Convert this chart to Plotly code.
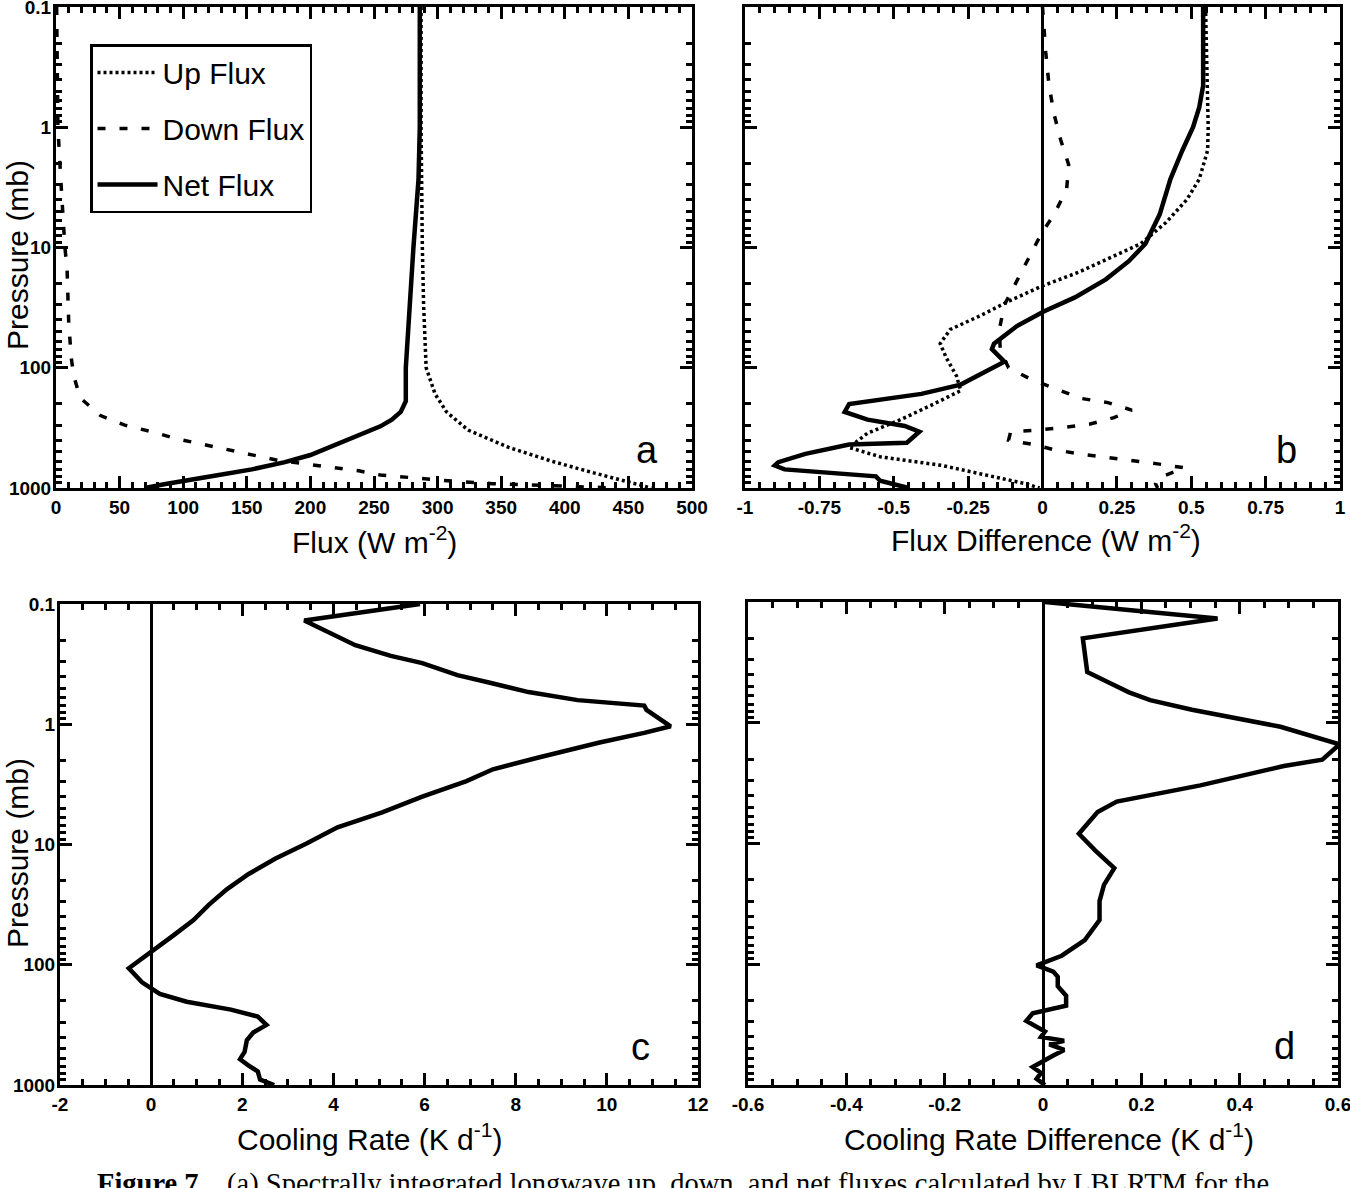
import plotly.graph_objects as go

# ---------------- Panel a : fluxes ----------------
p_up_a = [0.1, 1, 10, 30, 100, 165, 233, 330, 460, 600, 740, 880, 1000]
up_a = [287, 287, 288, 289, 291, 298, 307, 324, 356, 390, 421, 449, 468]

p_dn_a = [0.1, 0.3, 1, 3, 10, 15, 42, 83, 117, 178, 250, 300, 340, 390, 435,
          480, 530, 590, 630, 680, 720, 780, 820, 870, 920, 960, 1000]
dn_a = [0.5, 1, 1.5, 4, 7, 8.7, 10, 12, 14, 19, 35, 54, 75, 95, 115,
        134, 154, 175, 196, 217, 238, 255, 278, 308, 343, 385, 440]

p_net_a = [0.1, 1, 2.7, 10, 100, 190, 233, 270, 307, 350, 404, 460, 532, 610, 700, 780, 860, 930, 1000]
net_a = [286, 286, 285, 281, 275, 275, 271, 264, 255, 242, 227, 214, 200, 180, 154, 128, 102, 85, 70]

# ---------------- Panel b : flux differences ----------------
p_up_b = [0.1, 0.6, 1, 1.56, 2.7, 4, 6.2, 9.3, 12, 16, 21, 28, 37, 48, 63, 83,
          117, 155, 200, 270, 350, 460, 550, 650, 800, 920, 1000]
up_b = [0.548, 0.555, 0.557, 0.555, 0.527, 0.485, 0.415, 0.33, 0.234, 0.123, -0.003,
        -0.114, -0.21, -0.31, -0.344, -0.323, -0.289, -0.275, -0.365, -0.477, -0.588,
        -0.65, -0.546, -0.337, -0.17, -0.058, -0.01]

p_dn_b = [0.1, 0.24, 0.45, 0.78, 1.27, 2.05, 3.3, 5.3, 7.6, 12, 18.4, 30, 48, 72, 100,
          125, 150, 180, 195, 225, 260, 295, 315, 330, 340, 400, 435, 480, 520, 550,
          590, 630, 680, 750, 830, 920, 1000]
dn_b = [0.0, 0.011, 0.022, 0.039, 0.061, 0.088, 0.081, 0.039, -0.003, -0.045, -0.086,
        -0.128, -0.145, -0.142, -0.114, -0.038, 0.046, 0.13, 0.22, 0.30, 0.24, 0.157,
        0.067, -0.017, -0.107, -0.114, -0.031, 0.039, 0.123, 0.206, 0.304, 0.387, 0.478,
        0.436, 0.387, 0.38, 0.387]

p_net_b = [0.1, 0.3, 0.45, 0.68, 1, 1.56, 2.7, 5.3, 9.3, 13, 18.4, 26, 34, 45, 63, 70,
           89, 138, 165, 200, 233, 270, 305, 340, 420, 435, 520, 610, 650, 700, 800, 870, 1000]
net_b = [0.54, 0.54, 0.54, 0.527, 0.506, 0.47, 0.43, 0.394, 0.346, 0.29, 0.213, 0.109,
         0.004, -0.086, -0.163, -0.17, -0.128, -0.275, -0.407, -0.65, -0.665, -0.588,
         -0.463, -0.414, -0.456, -0.65, -0.797, -0.888, -0.9, -0.867, -0.56, -0.546, -0.45]

# ---------------- Panel c : cooling rate ----------------
p_c = [0.1, 0.137, 0.22, 0.27, 0.31, 0.39, 0.45, 0.54, 0.63, 0.70, 0.76, 1.04, 1.18,
       1.42, 1.9, 2.37, 2.97, 4.0, 5.4, 7.2, 9.8, 13.1, 17.6, 23.6, 31.6, 42.5, 57, 78,
       107, 140, 175, 203, 236, 270, 316, 366, 425, 530, 610, 690, 770, 900, 1000]
cr_c = [5.9, 3.36, 4.48, 5.26, 5.95, 6.72, 7.41, 8.28, 9.36, 10.82, 10.87, 11.4, 10.82,
        9.84, 8.48, 7.5, 6.92, 5.95, 5.07, 4.09, 3.41, 2.73, 2.14, 1.66, 1.27, 0.93, 0.49,
        0.0, -0.49, -0.2, 0.19, 0.78, 1.75, 2.34, 2.53, 2.24, 2.1, 2.05, 1.95, 2.14, 2.34,
        2.39, 2.7]

# ---------------- Panel d : cooling rate difference ----------------
p_d = [0.1, 0.137, 0.2, 0.38, 0.48, 0.56, 0.65, 0.78, 1.08, 1.51, 2.02, 2.28, 3.3,
       3.95, 4.5, 5.5, 6.4, 8.3, 11.5, 16, 22, 30, 43, 63, 85, 102, 115, 127, 152, 182,
       220, 255, 295, 360, 400, 430, 460, 512, 570, 635, 710, 795, 890, 1000]
crd_d = [0.004, 0.355, 0.081, 0.09, 0.141, 0.175, 0.218, 0.303, 0.483, 0.603, 0.568,
         0.49, 0.32, 0.218, 0.15, 0.111, 0.098, 0.073, 0.107, 0.145, 0.124, 0.115, 0.115,
         0.085, 0.038, -0.013, 0.021, 0.03, 0.03, 0.047, 0.047, -0.021, -0.034, 0.004,
         -0.004, 0.043, 0.013, 0.043, 0.021, 0.0, -0.021, -0.004, -0.013, 0.004]

# ---------------- Tick labels ----------------
p_tickvals = [0.1, 1, 10, 100, 1000]
p_ticktext = ["0.1", "1", "10", "100", "1000"]
xa_vals = [0, 50, 100, 150, 200, 250, 300, 350, 400, 450, 500]
xa_text = ["0", "50", "100", "150", "200", "250", "300", "350", "400", "450", "500"]
xb_vals = [-1, -0.75, -0.5, -0.25, 0, 0.25, 0.5, 0.75, 1]
xb_text = ["-1", "-0.75", "-0.5", "-0.25", "0", "0.25", "0.5", "0.75", "1"]
xc_vals = [-2, 0, 2, 4, 6, 8, 10, 12]
xc_text = ["-2", "0", "2", "4", "6", "8", "10", "12"]
xd_vals = [-0.6, -0.4, -0.2, 0, 0.2, 0.4, 0.6]
xd_text = ["-0.6", "-0.4", "-0.2", "0", "0.2", "0.4", "0.6"]

FONT = "Liberation Sans, Arial, Helvetica, sans-serif"
W, H = 1350, 1188

fig = go.Figure()

def add(x, y, name, dash, width, xa, ya, legend=False):
    fig.add_trace(go.Scatter(x=x, y=y, mode="lines", name=name,
                             line=dict(color="black", width=width, dash=dash),
                             xaxis=xa, yaxis=ya, showlegend=legend,
                             legendgroup=name if legend else None))

DOT = "3px,3px"
DASH = "8px,14px"
add(up_a, p_up_a, "Up Flux", DOT, 3.5, "x", "y", True)
add(dn_a, p_dn_a, "Down Flux", DASH, 3.5, "x", "y", True)
add(net_a, p_net_a, "Net Flux", "solid", 4.5, "x", "y", True)

add(up_b, p_up_b, "Up Flux b", DOT, 3.5, "x2", "y2")
add(dn_b, p_dn_b, "Down Flux b", DASH, 3.5, "x2", "y2")
add(net_b, p_net_b, "Net Flux b", "solid", 4.5, "x2", "y2")

add(cr_c, p_c, "Cooling Rate", "solid", 4.5, "x3", "y3")
add(crd_d, p_d, "Cooling Rate Difference", "solid", 4.5, "x4", "y4")

tickfont = dict(family=FONT, size=19, color="black", weight="bold")
minor_logs = [m * 10.0 ** e for e in range(-1, 3) for m in range(2, 10)]

def xaxis(domain, anchor, rng, vals, text, minor_dt, zeroline):
    return dict(domain=domain, anchor=anchor, range=rng, tickmode="array",
                tickvals=vals, ticktext=text, ticks="inside", ticklen=12, tickwidth=2.5,
                tickcolor="black", showline=True, linewidth=3, linecolor="black",
                mirror="allticks", showgrid=False, zeroline=zeroline, zerolinewidth=3,
                zerolinecolor="black", tickfont=tickfont, ticklabelstandoff=0,
                ticklabeloverflow="allow", automargin=False,
                minor=dict(tickmode="linear", tick0=0, dtick=minor_dt, ticks="inside",
                           ticklen=6, tickwidth=2.5, tickcolor="black", showgrid=False))

def yaxis(domain, anchor, labels):
    return dict(domain=domain, anchor=anchor, type="log", range=[3, -1],
                tickmode="array", tickvals=p_tickvals, ticktext=p_ticktext,
                showticklabels=labels, ticks="inside", ticklen=12, tickwidth=2.5,
                tickcolor="black", showline=True, linewidth=3, linecolor="black",
                mirror="allticks", showgrid=False, zeroline=False, tickfont=tickfont,
                ticklabelstandoff=-2, ticklabeloverflow="allow", automargin=False,
                minor=dict(tickmode="array", tickvals=minor_logs, ticks="inside",
                           ticklen=6, tickwidth=2.5, tickcolor="black", showgrid=False))

yd_top = [1 - 488 / H, 1 - 7 / H]
yd_bot = [1 - 1085 / H, 1 - 604 / H]

fig.update_layout(
    width=W, height=H, margin=dict(l=0, r=0, t=0, b=0),
    paper_bgcolor="white", plot_bgcolor="white",
    font=dict(family=FONT, color="black"),
    xaxis=xaxis([56 / W, 692 / W], "y", [0, 500], xa_vals, xa_text, 10, False),
    yaxis=yaxis(yd_top, "x", True),
    xaxis2=xaxis([745 / W, 1340 / W], "y2", [-1, 1], xb_vals, xb_text, 0.05, True),
    yaxis2=yaxis(yd_top, "x2", False),
    xaxis3=xaxis([60 / W, 698 / W], "y3", [-2, 12], xc_vals, xc_text, 0.5, True),
    yaxis3=yaxis(yd_bot, "x3", True),
    xaxis4=xaxis([748 / W, 1338 / W], "y4", [-0.6, 0.6], xd_vals, xd_text, 0.05, True),
    yaxis4=yaxis([1 - 1085 / H, 1 - 602 / H], "x4", False),
    legend=dict(x=90 / W, y=1 - 44 / H, xanchor="left", yanchor="top",
                bordercolor="black", borderwidth=2.5, bgcolor="white",
                font=dict(family=FONT, size=30, color="black"),
                tracegroupgap=14, itemwidth=60,
                entrywidth=250, entrywidthmode="pixels"),
)

ann = []
def text(s, x, y, size=30, angle=0):
    ann.append(dict(text=s, x=x / W, y=1 - y / H, xref="paper", yref="paper",
                    xanchor="center", yanchor="middle",
                    showarrow=False, textangle=angle,
                    font=dict(family=FONT, size=size, color="black")))

text("Flux (W m<sup>-2</sup>)", 374, 540)
text("Flux Difference (W m<sup>-2</sup>)", 1046, 538)
text("Cooling Rate (K d<sup>-1</sup>)", 369, 1137)
text("Cooling Rate Difference (K d<sup>-1</sup>)", 1049, 1137)
text("Pressure (mb)", 17, 255, angle=-90)
text("Pressure (mb)", 17, 853, angle=-90)

for s, xr, yr in [("a", "x", "y"), ("b", "x2", "y2"), ("c", "x3", "y3"), ("d", "x4", "y4")]:
    ann.append(dict(text=s, x=0.93 if s == "a" else 0.91, y=0.08, xref=xr + " domain",
                    yref=yr + " domain", xanchor="center", yanchor="middle",
                    showarrow=False,
                    font=dict(family=FONT, size=38, color="black")))

ann.append(dict(text="<b>Figure 7.</b>   (a) Spectrally integrated longwave up, down, and net fluxes calculated by LBLRTM for the",
                x=683 / W, y=1 - 1166 / H, xref="paper", yref="paper",
                xanchor="center", yanchor="top", showarrow=False,
                font=dict(family="Liberation Serif, Times New Roman, serif", size=28.5, color="black")))

fig.update_layout(annotations=ann)
fig.write_html("out.html", config={"displayModeBar": False},
               post_script="document.body.style.margin='0px';")
